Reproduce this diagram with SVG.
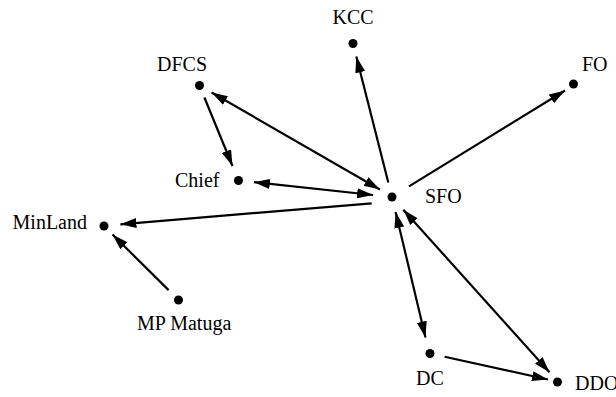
<svg xmlns="http://www.w3.org/2000/svg" width="616" height="397" viewBox="0 0 616 397">
  <style>
    .edge { stroke: #000; stroke-width: 2.2; fill: none; }
    .dot { fill: #000; }
    .lbl { font-family: "Liberation Serif", "Times New Roman", serif; font-size: 20px; fill: #000; }
  </style>
  <defs>
    <marker id="head" markerUnits="userSpaceOnUse" markerWidth="18" markerHeight="12" refX="16" refY="5" orient="auto-start-reverse">
      <path d="M0,0 L16,5 L0,10 Z" fill="#000"/>
    </marker>
  </defs>
  <rect width="616" height="397" fill="#fff"/>

  <!-- connectors -->
  <g id="connectors">
    <line class="edge" x1="388.3" y1="182.5" x2="356.3" y2="56.6" marker-end="url(#head)"/>
    <line class="edge" x1="409" y1="186.4" x2="565" y2="90.5" marker-end="url(#head)"/>
    <line class="edge" x1="379.9" y1="189.5" x2="211.6" y2="92.5" marker-start="url(#head)" marker-end="url(#head)"/>
    <line class="edge" x1="204.4" y1="97.5" x2="232.5" y2="166" marker-end="url(#head)"/>
    <line class="edge" x1="373.1" y1="195" x2="253.9" y2="182.2" marker-start="url(#head)" marker-end="url(#head)"/>
    <line class="edge" x1="371.7" y1="203.3" x2="120.4" y2="224.3" marker-end="url(#head)"/>
    <line class="edge" x1="168.6" y1="290.1" x2="112.5" y2="234.5" marker-end="url(#head)"/>
    <line class="edge" x1="395.6" y1="212" x2="425.5" y2="337.4" marker-start="url(#head)" marker-end="url(#head)"/>
    <line class="edge" x1="403.3" y1="209.7" x2="549.5" y2="372.3" marker-start="url(#head)" marker-end="url(#head)"/>
    <line class="edge" x1="444.6" y1="356.8" x2="548" y2="379.5" marker-end="url(#head)"/>
  </g>

  <!-- nodes -->
  <g id="SFO"><circle class="dot" cx="392" cy="197" r="4.5"/><text class="lbl" x="425" y="203">SFO</text></g>
  <g id="KCC"><circle class="dot" cx="353" cy="43.5" r="4.5"/><text class="lbl" x="353" y="24" text-anchor="middle">KCC</text></g>
  <g id="DFCS"><circle class="dot" cx="199.5" cy="85.5" r="4.5"/><text class="lbl" x="157" y="70.5">DFCS</text></g>
  <g id="FO"><circle class="dot" cx="573.5" cy="84" r="4.5"/><text class="lbl" x="582" y="71">FO</text></g>
  <g id="Chief"><circle class="dot" cx="238.5" cy="180.5" r="4.5"/><text class="lbl" x="175" y="187">Chief</text></g>
  <g id="MinLand"><circle class="dot" cx="104" cy="226" r="4.5"/><text class="lbl" x="87" y="229" text-anchor="end">MinLand</text></g>
  <g id="MPMatuga"><circle class="dot" cx="178.5" cy="300" r="4.5"/><text class="lbl" x="137" y="330">MP Matuga</text></g>
  <g id="DC"><circle class="dot" cx="430" cy="353.5" r="4.5"/><text class="lbl" x="416" y="385">DC</text></g>
  <g id="DDO"><circle class="dot" cx="557.5" cy="382" r="4.5"/><text class="lbl" x="575" y="390">DDO</text></g>
</svg>
